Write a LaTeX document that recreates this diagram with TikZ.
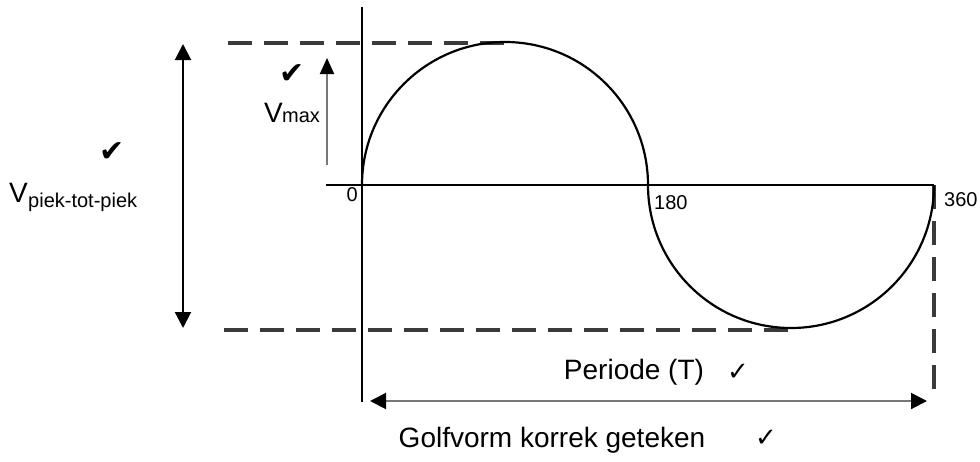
\documentclass[tikz,border=0pt]{standalone}
\usepackage{fontspec}
\setmainfont{Liberation Sans}
\newfontfamily\symfont{DejaVu Sans}
\usetikzlibrary{arrows.meta}
\definecolor{dashgray}{HTML}{3A3A3A}
\definecolor{shaftgray}{HTML}{777777}
\tikzset{
  axisline/.style={line width=2.2pt, black},
  wave/.style={line width=2.2pt, black},
  guide/.style={line width=3.5pt, dashgray, dash pattern=on 24pt off 12pt},
  dimarrow/.style={line width=2pt, {Triangle[length=16pt,width=16pt,color=black]}-{Triangle[length=16pt,width=16pt,color=black]}},
  bigtxt/.style={inner sep=0pt, font=\fontsize{28}{28}\selectfont},
  subtxt/.style={inner sep=0pt, font=\fontsize{20}{20}\selectfont},
  numtxt/.style={inner sep=0pt, font=\fontsize{20}{20}\selectfont},
  heavytick/.style={inner sep=0pt, font=\symfont\fontsize{30}{30}\selectfont},
  lighttick/.style={inner sep=0pt, font=\symfont\fontsize{26}{26}\selectfont},
}
\begin{document}
\begin{tikzpicture}[x=1pt,y=-1pt]
\useasboundingbox[fill=white] (0,0) rectangle (980,461);

% key coordinates
\coordinate (ytop) at (362,7);
\coordinate (ybot) at (362,402);
\coordinate (xl) at (326,185);
\coordinate (o) at (362,185);
\coordinate (h180) at (648,185);
\coordinate (h360) at (934,185);
\coordinate (peak) at (505,43);
\coordinate (trough) at (791,330);

% dashed guides
\coordinate (dt1) at (228,43);
\coordinate (db1) at (224,330);
\coordinate (dr2) at (934,390);
\draw[guide] (dt1) -- (peak);
\draw[guide] (db1) -- (trough);
\draw[guide] (h360) -- (dr2);

% axes
\draw[axisline] (ytop) -- (ybot);
\draw[line width=2.5pt] (xl) -- (h360);

% waveform (two semicircles)
\draw[wave] (o) arc[start angle=180, end angle=0, radius=143pt]
            arc[start angle=180, end angle=360, radius=143pt];

% peak-to-peak arrow
\coordinate (pp1) at (183,44);
\coordinate (pp2) at (183,328);
\draw[dimarrow] (pp1) -- (pp2);

% Vmax arrow
\coordinate (vm1) at (327,165);
\coordinate (vm2) at (327,58);
\draw[line width=2pt, shaftgray, -{Triangle[length=16pt,width=14pt,color=black]}] (vm1) -- (vm2);

% period arrow
\coordinate (pa1) at (370,401);
\coordinate (pa2) at (927,401);
\draw[dimarrow, draw=shaftgray] (pa1) -- (pa2);

% axis numbers
\node[numtxt, anchor=north east] (n0) at (358,187) {0};
\node[numtxt, anchor=west] (n180) at (654,203) {180};
\node[numtxt, anchor=west] (n360) at (944,200) {360};

% labels
\node[bigtxt, anchor=base west] (vpp) at (9,202) {V};
\node[subtxt, anchor=base west] (vppsub) at (28,207) {piek-tot-piek};
\node[heavytick] (tk1) at (112,152) {✔};

\node[bigtxt, anchor=base west] (vmax) at (264,122) {V};
\node[subtxt, anchor=base west] (vmaxsub) at (282,122) {max};
\node[heavytick] (tk2) at (292,74) {✔};

\node[bigtxt] (per) at (634,372) {Periode (T)};
\node[lighttick] (tk3) at (738,372) {✓};

\node[bigtxt] (golf) at (552,440) {Golfvorm korrek geteken};
\node[lighttick] (tk4) at (766,438) {✓};
\end{tikzpicture}
\end{document}
